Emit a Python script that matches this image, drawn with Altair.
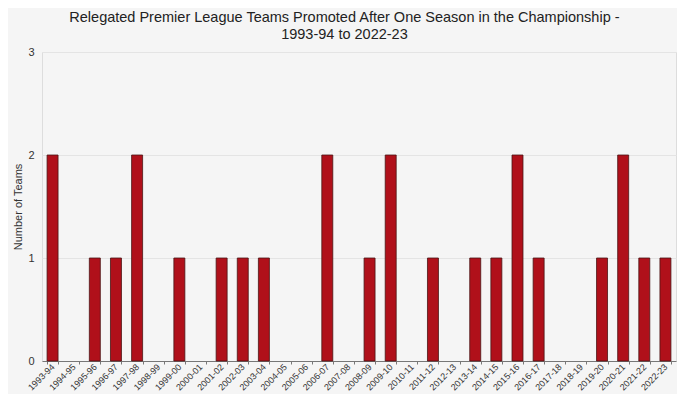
import altair as alt
import pandas as pd

seasons = ["1993-94", "1994-95", "1995-96", "1996-97", "1997-98", "1998-99",
           "1999-00", "2000-01", "2001-02", "2002-03", "2003-04", "2004-05",
           "2005-06", "2006-07", "2007-08", "2008-09", "2009-10", "2010-11",
           "2011-12", "2012-13", "2013-14", "2014-15", "2015-16", "2016-17",
           "2017-18", "2018-19", "2019-20", "2020-21", "2021-22", "2022-23"]
teams = [2, 0, 1, 1, 2, 0, 1, 0, 1, 1, 1, 0, 0, 2, 0, 1, 2, 0, 1, 0,
         1, 1, 2, 1, 0, 0, 1, 2, 1, 1]

df = pd.DataFrame({"Season": seasons, "Teams": teams})

FONT = "Liberation Sans"

chart = alt.Chart(df).transform_filter(
    "datum.Teams > 0"
).mark_bar(
    color="#b0101a", stroke="#4a1515", strokeWidth=0.8
).encode(
    x=alt.X("Season:N", sort=seasons,
            scale=alt.Scale(domain=seasons, paddingInner=0.48, paddingOuter=0.24),
            axis=alt.Axis(title=None, labelAngle=-45, labelAlign="right",
                          labelBaseline="middle", labelFontSize=9,
                          labelColor="#333333", tickBand="extent",
                          domainColor="#777777", tickColor="#777777",
                          tickSize=3, labelPadding=1, grid=False)),
    y=alt.Y("Teams:Q", scale=alt.Scale(domain=[0, 3]),
            axis=alt.Axis(title="Number of Teams", values=[0, 1, 2, 3],
                          format="d", ticks=False, domain=False,
                          labelFontSize=11, labelColor="#333333",
                          labelPadding=8, titleFontSize=11,
                          titleFontWeight="normal", titleColor="#333333",
                          titlePadding=4, gridColor="#e4e4e4")),
).properties(
    width=634, height=309,
    title=alt.Title(
        ["Relegated Premier League Teams Promoted After One Season in the Championship -",
         "1993-94 to 2022-23"],
        anchor="middle", frame="bounds", fontSize=14.5, font=FONT,
        fontWeight="normal", color="#222222", lineHeight=17, offset=4),
    background="#f5f5f5",
    padding={"left": 34, "top": 44, "right": 1, "bottom": 33},
    autosize=alt.AutoSizeParams(type="none"),
).configure_view(
    stroke=None, fill="#f5f5f5"
).configure(font=FONT)

chart.save("out.html", embed_options={"renderer": "svg", "actions": False})
